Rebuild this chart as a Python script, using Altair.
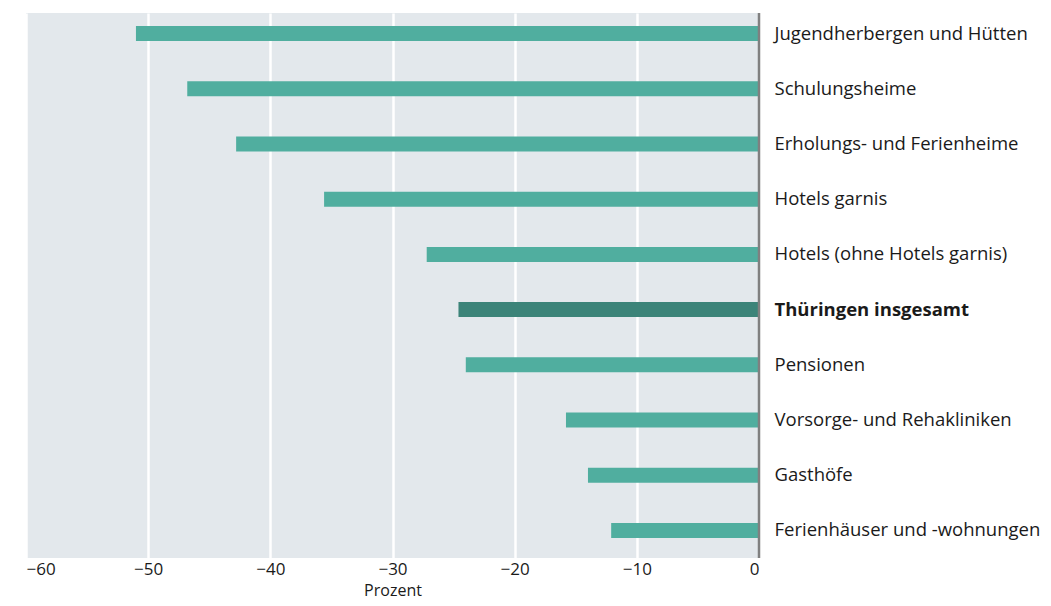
import altair as alt
import pandas as pd

categories = [
    "Jugendherbergen und Hütten",
    "Schulungsheime",
    "Erholungs- und Ferienheime",
    "Hotels garnis",
    "Hotels (ohne Hotels garnis)",
    "Thüringen insgesamt",
    "Pensionen",
    "Vorsorge- und Rehakliniken",
    "Gasthöfe",
    "Ferienhäuser und -wohnungen",
]
values = [-51.0, -46.8, -42.8, -35.6, -27.2, -24.6, -24.0, -15.8, -14.0, -12.1]
highlight = "Thüringen insgesamt"
x_ticks = [-60, -50, -40, -30, -20, -10, 0]

df = pd.DataFrame({"kategorie": categories, "wert": values})
df["hl"] = df["kategorie"] == highlight

FONT = "Open Sans"

y_enc = alt.Y(
    "kategorie:N",
    sort=categories,
    scale=alt.Scale(range=[-7, 545], paddingInner=0, paddingOuter=0),
    axis=alt.Axis(
        orient="right",
        title=None,
        domain=False,
        ticks=False,
        grid=False,
        labelPadding=15,
        labelFontSize=18.5,
        labelFont=FONT,
        labelColor="#1a1a1a",
        labelLimit=400,
        labelFontWeight=alt.ExprRef(expr="datum.value == '" + highlight + "' ? 'bold' : 'normal'"),
    ),
)

bars = alt.Chart(df).mark_bar(size=15).encode(
    x=alt.X(
        "wert:Q",
        scale=alt.Scale(domain=[-60, 0], nice=False, zero=False),
        axis=alt.Axis(
            values=x_ticks,
            title="Prozent",
            titleFont=FONT,
            titleFontSize=16,
            titleFontWeight="normal",
            titleColor="#1a1a1a",
            titleY=37,
            titleBaseline="alphabetic",
            labelFont=FONT,
            labelFontSize=17,
            labelColor="#1a1a1a",
            labelPadding=3,
            ticks=False,
            domain=False,
            grid=True,
            gridColor="white",
            gridWidth=2.5,
            format="d",
        ),
    ),
    y=y_enc,
    color=alt.Color(
        "hl:N",
        scale=alt.Scale(domain=[False, True], range=["#50ae9f", "#3c8479"]),
        legend=None,
    ),
)

zero_df = pd.DataFrame({"x": [0]})
zero = alt.Chart(zero_df).mark_rule(color="#808080", strokeWidth=2.5).encode(x="x:Q")

chart = (
    alt.layer(bars, zero)
    .properties(
        width=733,
        height=545,
        autosize=alt.AutoSizeParams(type="none"),
        padding={"left": 18, "top": 5, "right": 283, "bottom": 40},
    )
    .configure_view(fill="#e3e8ec", stroke=None)
)

chart.save("out.html", embed_options={"renderer": "svg", "actions": False})
